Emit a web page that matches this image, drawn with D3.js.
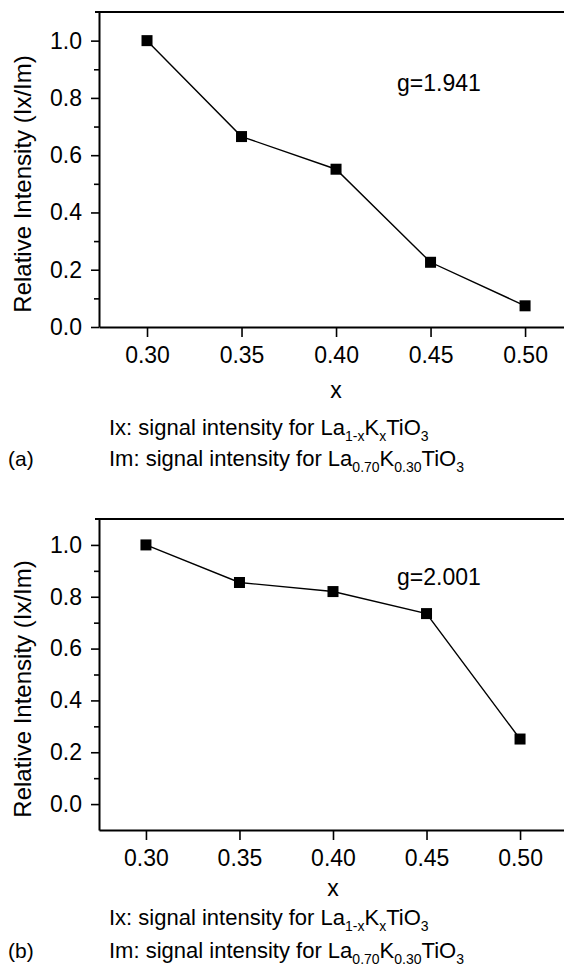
<!DOCTYPE html>
<html>
<head>
<meta charset="utf-8">
<script src="https://cdn.jsdelivr.net/npm/d3@7"></script>
<style>
  body { margin: 0; background: #fff; }
  svg { display: block; font-family: "Liberation Sans", Arial, sans-serif; }
</style>
</head>
<body>
<div id="chart"></div>
<script>
// data
var xValues = [0.30, 0.35, 0.40, 0.45, 0.50];
var xTicks = [0.30, 0.35, 0.40, 0.45, 0.50];
var intensityA = [1.0, 0.665, 0.551, 0.226, 0.074];
var intensityB = [1.0, 0.855, 0.82, 0.735, 0.251];
var yMajorTicks = [0.0, 0.2, 0.4, 0.6, 0.8, 1.0];
var yMinorTicks = [0.1, 0.3, 0.5, 0.7, 0.9];
var gLabels = ["g=1.941", "g=2.001"];
var panelLabels = ["(a)", "(b)"];
var yTitle = "Relative Intensity (Ix/Im)";
var xTitle = "x";
var captionA = [["Ix: signal intensity for La", 0], ["1-x", 1], ["K", 0], ["x", 1], ["TiO", 0], ["3", 1]];
var captionB = [["Im: signal intensity for La", 0], ["0.70", 1], ["K", 0], ["0.30", 1], ["TiO", 0], ["3", 1]];

var width = 564, height = 974;

var svg = d3.select("#chart").append("svg")
    .attr("width", width)
    .attr("height", height);

var panels = [
    { values: intensityA, top: 12, bottom: 327, yDomain: [0, 1.1], xDomain: [0.2746, 0.5206],
      g: gLabels[0], gY: 91, label: panelLabels[0], xTitleY: 398, capY: [435, 466], yTitleC: 184 },
    { values: intensityB, top: 519, bottom: 830, yDomain: [-0.1, 1.1], xDomain: [0.2749, 0.5235],
      g: gLabels[1], gY: 585, label: panelLabels[1], xTitleY: 896, capY: [925, 958], yTitleC: 689 }
];

var left = 99;

panels.forEach(function(p) {
    var x = d3.scaleLinear().domain(p.xDomain).range([left, width]);
    var y = d3.scaleLinear().domain(p.yDomain).range([p.bottom, p.top]);
    var g = svg.append("g");

    // top frame line
    g.append("line")
        .attr("x1", left - 4).attr("x2", width)
        .attr("y1", p.top).attr("y2", p.top)
        .attr("stroke", "#000").attr("stroke-width", 2);

    // x axis
    var xAxis = g.append("g")
        .attr("transform", "translate(0," + p.bottom + ")")
        .call(d3.axisBottom(x).tickValues(xTicks).tickFormat(d3.format(".2f"))
            .tickSize(10).tickSizeOuter(0).tickPadding(10));
    xAxis.select(".domain").attr("stroke-width", 2);
    xAxis.selectAll(".tick line").attr("stroke-width", 1.6);
    xAxis.selectAll("text").attr("font-size", 23).attr("font-family", "Liberation Sans").attr("fill", "#000");

    // y axis
    var yAxis = g.append("g")
        .attr("transform", "translate(" + left + ",0)")
        .call(d3.axisLeft(y).tickValues(yMajorTicks).tickFormat(d3.format(".1f"))
            .tickSize(8).tickSizeOuter(0).tickPadding(9));
    yAxis.select(".domain").attr("stroke-width", 2);
    yAxis.selectAll(".tick line").attr("stroke-width", 1.6);
    yAxis.selectAll("text").attr("font-size", 23).attr("font-family", "Liberation Sans").attr("fill", "#000");

    g.append("g")
        .attr("transform", "translate(" + left + ",0)")
        .call(d3.axisLeft(y).tickValues(yMinorTicks).tickFormat("").tickSize(5).tickSizeOuter(0))
        .call(function(s) { s.select(".domain").remove(); })
        .selectAll(".tick line").attr("stroke-width", 1.6);

    // series
    var pts = p.values.map(function(v, i) { return [xValues[i], v]; });
    g.append("path")
        .datum(pts)
        .attr("fill", "none")
        .attr("stroke", "#000")
        .attr("stroke-width", 1.4)
        .attr("d", d3.line().x(function(d) { return x(d[0]); }).y(function(d) { return y(d[1]); }));

    g.selectAll("rect.pt")
        .data(pts)
        .enter().append("rect")
        .attr("class", "pt")
        .attr("x", function(d) { return x(d[0]) - 5.5; })
        .attr("y", function(d) { return y(d[1]) - 5.5; })
        .attr("width", 11).attr("height", 11)
        .attr("fill", "#000");

    // g annotation
    g.append("text")
        .attr("x", 397).attr("y", p.gY)
        .attr("font-size", 23)
        .text(p.g);

    // axis titles
    g.append("text")
        .attr("transform", "translate(31," + p.yTitleC + ")rotate(-90)")
        .attr("text-anchor", "middle")
        .attr("font-size", 24)
        .text(yTitle);

    g.append("text")
        .attr("x", x(0.40)).attr("y", p.xTitleY)
        .attr("text-anchor", "middle")
        .attr("font-size", 23)
        .text(xTitle);

    // captions
    [captionA, captionB].forEach(function(parts, li) {
        var t = g.append("text")
            .attr("x", 109).attr("y", p.capY[li])
            .attr("font-size", 22);
        var shifted = false;
        parts.forEach(function(part) {
            var sp = t.append("tspan").text(part[0]);
            if (part[1] && !shifted) { sp.attr("dy", 6).attr("font-size", 14); shifted = true; }
            else if (part[1]) { sp.attr("font-size", 14); }
            else if (shifted) { sp.attr("dy", -6); shifted = false; }
        });
    });

    g.append("text")
        .attr("x", 8).attr("y", p.capY[1])
        .attr("font-size", 21)
        .text(p.label);
});
</script>
</body>
</html>
